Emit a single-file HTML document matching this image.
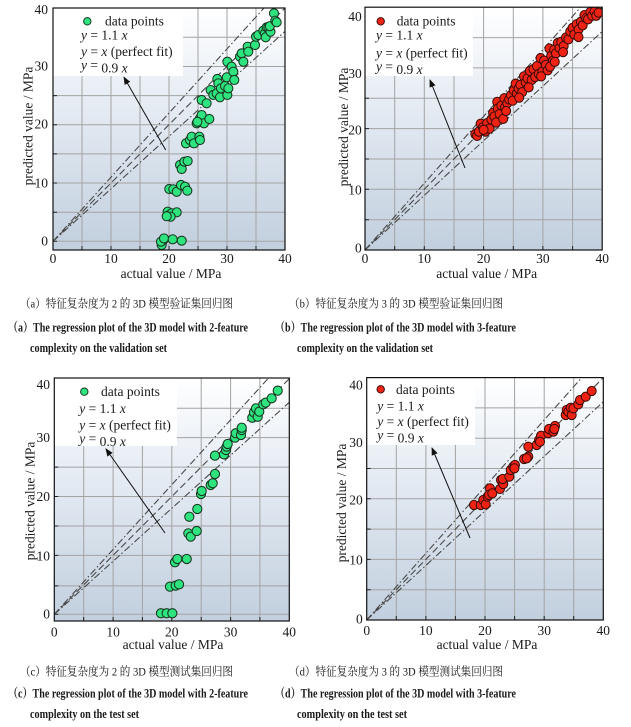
<!DOCTYPE html>
<html><head><meta charset="utf-8"><style>
html,body{margin:0;padding:0;background:#fff;}
svg{display:block;}
text{font-family:"Liberation Serif",serif;fill:#1a1a1a;}
.t{font-size:13.5px;}
.cap text{font-family:"Liberation Serif","Noto Serif CJK SC",serif;}
</style></head><body>
<svg width="631" height="727" viewBox="0 0 631 727" xmlns="http://www.w3.org/2000/svg" style="font-family:'Liberation Serif',serif">
<defs>
<linearGradient id="bg" x1="0" y1="0" x2="0" y2="1">
<stop offset="0" stop-color="#ffffff"/><stop offset="0.35" stop-color="#e8eef5"/><stop offset="1" stop-color="#c2cfde"/>
</linearGradient>
<clipPath id="ca"><rect x="53" y="8" width="232" height="242"/></clipPath>
<clipPath id="cb"><rect x="365" y="7.2" width="237.2" height="242.8"/></clipPath>
<clipPath id="cc"><rect x="54.3" y="378" width="235" height="243"/></clipPath>
<clipPath id="cd"><rect x="366.7" y="377.6" width="236.6" height="242.4"/></clipPath>
<marker id="ah" markerWidth="8" markerHeight="8" refX="7" refY="4" orient="auto" markerUnits="userSpaceOnUse"><path d="M0,0.8 L8,4 L0,7.2 Z" fill="#111"/></marker>
</defs>

<!-- ============ PANEL A ============ -->
<rect x="53" y="8" width="232" height="242" fill="url(#bg)"/>
<g stroke="#a3a3a3" stroke-width="1">
<path d="M82,8V250M111,8V250M140,8V250M169,8V250M198,8V250M227,8V250M256,8V250"/>
<path d="M53,241.3H285M53,212.2H285M53,183H285M53,153.9H285M53,124.7H285M53,95.6H285M53,66.5H285M53,37.3H285"/>
</g>
<g stroke="#222" stroke-width="1">
<path d="M82,250v-4M111,250v-4M140,250v-4M169,250v-4M198,250v-4M227,250v-4M256,250v-4"/>
<path d="M53,241.3h4M53,212.2h4M53,183h4M53,153.9h4M53,124.7h4M53,95.6h4M53,66.5h4M53,37.3h4"/>
</g>
<g clip-path="url(#ca)" fill="none" stroke="#4a4a4a" stroke-width="1.1">
<line x1="53" y1="241.3" x2="263.9" y2="8.1" stroke-dasharray="7,2.5,1.5,2.5"/>
<line x1="53" y1="241.3" x2="285" y2="8.1" stroke-dasharray="7,3.5"/>
<line x1="53" y1="241.3" x2="285" y2="31.4" stroke-dasharray="7,2.5,1.5,2.5"/>
</g>
<g clip-path="url(#ca)"><g transform="translate(53 241.3) scale(5.8 -5.83)" fill="#2fe37f" stroke="#16351f" stroke-width="0.18">
<circle cx="18.74" cy="-0.63" r="0.78"/><circle cx="19.03" cy="0.22" r="0.78"/><circle cx="18.62" cy="-0.06" r="0.78"/><circle cx="19.14" cy="0.5" r="0.78"/><circle cx="20.64" cy="0.34" r="0.78"/><circle cx="22.19" cy="0.1" r="0.78"/>
<circle cx="19.77" cy="5.08" r="0.78"/><circle cx="20.0" cy="4.5" r="0.78"/><circle cx="20.46" cy="4.8" r="0.78"/><circle cx="21.33" cy="4.97" r="0.78"/><circle cx="20.29" cy="4.22" r="0.78"/><circle cx="19.6" cy="4.3" r="0.78"/>
<circle cx="20.05" cy="8.97" r="0.78"/><circle cx="20.74" cy="8.92" r="0.78"/><circle cx="21.33" cy="8.5" r="0.78"/><circle cx="22.07" cy="9.66" r="0.78"/><circle cx="22.76" cy="9.37" r="0.78"/><circle cx="23.16" cy="8.68" r="0.78"/>
<circle cx="21.9" cy="13.1" r="0.78"/><circle cx="22.19" cy="12.4" r="0.78"/><circle cx="22.64" cy="13.66" r="0.78"/><circle cx="23.22" cy="13.77" r="0.78"/>
<circle cx="22.93" cy="16.8" r="0.78"/><circle cx="23.62" cy="17.37" r="0.78"/><circle cx="23.91" cy="17.94" r="0.78"/><circle cx="24.31" cy="16.8" r="0.78"/><circle cx="25.23" cy="17.94" r="0.78"/><circle cx="25.34" cy="17.37" r="0.78"/>
<circle cx="24.77" cy="20.24" r="0.78"/><circle cx="25.34" cy="21.1" r="0.78"/><circle cx="25.63" cy="21.66" r="0.78"/><circle cx="26.03" cy="20.24" r="0.78"/><circle cx="26.95" cy="20.98" r="0.78"/><circle cx="24.9" cy="20.5" r="0.78"/>
<circle cx="25.63" cy="24.24" r="0.78"/><circle cx="26.49" cy="23.67" r="0.78"/><circle cx="27.18" cy="25.95" r="0.78"/><circle cx="27.64" cy="25.1" r="0.78"/><circle cx="28.21" cy="25.38" r="0.78"/><circle cx="28.79" cy="24.7" r="0.78"/>
<circle cx="28.33" cy="27.84" r="0.78"/><circle cx="28.5" cy="27.1" r="0.78"/><circle cx="28.96" cy="26.24" r="0.78"/><circle cx="29.66" cy="26.64" r="0.78"/><circle cx="29.95" cy="28.13" r="0.78"/><circle cx="30.06" cy="25.1" r="0.78"/><circle cx="30.23" cy="26.24" r="0.78"/>
<circle cx="30.06" cy="30.8" r="0.78"/><circle cx="30.8" cy="29.95" r="0.78"/><circle cx="31.09" cy="29.09" r="0.78"/><circle cx="31.26" cy="27.67" r="0.78"/>
<circle cx="32.24" cy="31.66" r="0.78"/><circle cx="32.53" cy="32.24" r="0.78"/><circle cx="32.82" cy="30.8" r="0.78"/><circle cx="33.56" cy="33.38" r="0.78"/><circle cx="33.67" cy="32.52" r="0.78"/>
<circle cx="34.83" cy="33.67" r="0.78"/><circle cx="35.0" cy="35.1" r="0.78"/><circle cx="35.4" cy="35.38" r="0.78"/><circle cx="36.26" cy="36.12" r="0.78"/><circle cx="36.55" cy="35.67" r="0.78"/><circle cx="36.84" cy="36.7" r="0.78"/><circle cx="36.67" cy="35.0" r="0.78"/>
<circle cx="37.13" cy="36.7" r="0.78"/><circle cx="37.5" cy="35.95" r="0.78"/><circle cx="37.38" cy="36.9" r="0.78"/><circle cx="38.1" cy="39.1" r="0.78"/><circle cx="38.33" cy="37.84" r="0.78"/><circle cx="38.56" cy="37.56" r="0.78"/>
</g></g>
<rect x="53.5" y="8.5" width="129.5" height="67.5" fill="#fff"/>
<circle cx="87.3" cy="21.3" r="3.7" fill="#2fe37f" stroke="#16351f" stroke-width="1"/>
<text class="t" x="105" y="25.5">data points</text>
<text class="t" x="81" y="39.5"><tspan font-style="italic">y</tspan> = 1.1 <tspan font-style="italic">x</tspan></text>
<text class="t" x="81" y="56"><tspan font-style="italic">y</tspan> = <tspan font-style="italic">x</tspan> (perfect fit)</text>
<text class="t" x="81" y="69.5"><tspan font-style="italic">y</tspan> =<tspan dy="3"> 0.9 </tspan><tspan font-style="italic">x</tspan></text>
<line x1="165.7" y1="150" x2="124" y2="77.3" stroke="#111" stroke-width="1" marker-end="url(#ah)"/>
<rect x="53" y="8" width="232" height="242" fill="none" stroke="#111" stroke-width="1.2"/>
<g text-anchor="end">
<text class="t" x="48" y="13.8">40</text><text class="t" x="48" y="70.5">30</text><text class="t" x="48" y="128.5">20</text><text class="t" x="48" y="187.5">10</text><text class="t" x="48" y="245.5">0</text>
</g>
<g text-anchor="middle">
<text class="t" x="53" y="263">0</text><text class="t" x="111" y="263">10</text><text class="t" x="169" y="263">20</text><text class="t" x="227" y="263">30</text><text class="t" x="285" y="263">40</text>
<text class="t" x="171" y="278">actual value / MPa</text>
<text class="t" transform="translate(32.5 126) rotate(-90)">predicted value / MPa</text>
</g>

<!-- ============ PANEL B ============ -->
<rect x="365" y="7.2" width="237.2" height="242.8" fill="url(#bg)"/>
<g stroke="#a3a3a3" stroke-width="1">
<path d="M394.7,7V250M424.3,7V250M454,7V250M483.6,7V250M513.3,7V250M542.9,7V250M572.6,7V250"/>
<path d="M365,219.7H602M365,189.3H602M365,159H602M365,128.6H602M365,98.3H602M365,67.9H602M365,37.6H602"/>
</g>
<g stroke="#222" stroke-width="1">
<path d="M394.7,250v-4M424.3,250v-4M454,250v-4M483.6,250v-4M513.3,250v-4M542.9,250v-4M572.6,250v-4"/>
<path d="M365,219.7h4M365,189.3h4M365,159h4M365,128.6h4M365,98.3h4M365,67.9h4M365,37.6h4"/>
</g>
<g clip-path="url(#cb)" fill="none" stroke="#4a4a4a" stroke-width="1.1">
<line x1="365" y1="250" x2="580.6" y2="7.2" stroke-dasharray="7,2.5,1.5,2.5"/>
<line x1="365" y1="250" x2="602.2" y2="7.2" stroke-dasharray="7,3.5"/>
<line x1="365" y1="250" x2="602.2" y2="31.5" stroke-dasharray="7,2.5,1.5,2.5"/>
</g>
<g clip-path="url(#cb)"><g transform="translate(365 250) scale(5.93 -6.07)" fill="#ee2314" stroke="#3a0a06" stroke-width="0.17">
<circle cx="18.6" cy="19.1" r="0.76"/><circle cx="18.9" cy="18.8" r="0.76"/><circle cx="19.2" cy="19.5" r="0.76"/><circle cx="19.5" cy="20.8" r="0.76"/><circle cx="19.9" cy="20.2" r="0.76"/><circle cx="20.3" cy="19.5" r="0.76"/>
<circle cx="20.6" cy="20.9" r="0.76"/><circle cx="21.0" cy="20.0" r="0.76"/><circle cx="21.3" cy="21.5" r="0.76"/><circle cx="21.6" cy="22.6" r="0.76"/><circle cx="21.8" cy="22.0" r="0.76"/><circle cx="22.1" cy="21.0" r="0.76"/>
<circle cx="22.3" cy="24.4" r="0.76"/><circle cx="22.4" cy="23.3" r="0.76"/><circle cx="22.7" cy="22.4" r="0.76"/><circle cx="23.0" cy="23.8" r="0.76"/><circle cx="23.3" cy="21.6" r="0.76"/><circle cx="23.5" cy="25.0" r="0.76"/>
<circle cx="23.6" cy="23.5" r="0.76"/><circle cx="24.0" cy="24.2" r="0.76"/><circle cx="24.3" cy="24.8" r="0.76"/><circle cx="24.6" cy="25.5" r="0.76"/><circle cx="24.9" cy="24.6" r="0.76"/><circle cx="25.1" cy="26.3" r="0.76"/>
<circle cx="25.4" cy="27.4" r="0.76"/><circle cx="25.6" cy="25.8" r="0.76"/><circle cx="25.9" cy="26.6" r="0.76"/><circle cx="26.2" cy="27.2" r="0.76"/><circle cx="26.5" cy="26.0" r="0.76"/><circle cx="26.8" cy="28.6" r="0.76"/>
<circle cx="27.1" cy="27.6" r="0.76"/><circle cx="27.4" cy="28.3" r="0.76"/><circle cx="27.8" cy="29.5" r="0.76"/><circle cx="28.1" cy="28.0" r="0.76"/><circle cx="28.4" cy="29.8" r="0.76"/><circle cx="28.7" cy="28.5" r="0.76"/>
<circle cx="29.0" cy="30.3" r="0.76"/><circle cx="29.3" cy="29.0" r="0.76"/><circle cx="29.6" cy="31.6" r="0.76"/><circle cx="29.9" cy="29.4" r="0.76"/><circle cx="30.2" cy="31.2" r="0.76"/><circle cx="30.5" cy="30.5" r="0.76"/>
<circle cx="30.8" cy="29.6" r="0.76"/><circle cx="31.1" cy="33.2" r="0.76"/><circle cx="31.4" cy="32.0" r="0.76"/><circle cx="31.7" cy="31.2" r="0.76"/><circle cx="31.9" cy="33.0" r="0.76"/><circle cx="32.2" cy="32.4" r="0.76"/>
<circle cx="32.5" cy="34.1" r="0.76"/><circle cx="32.8" cy="33.3" r="0.76"/><circle cx="33.1" cy="34.3" r="0.76"/><circle cx="33.5" cy="33.6" r="0.76"/><circle cx="33.9" cy="35.0" r="0.76"/><circle cx="34.3" cy="34.7" r="0.76"/>
<circle cx="34.6" cy="36.0" r="0.76"/><circle cx="35.0" cy="36.6" r="0.76"/><circle cx="35.3" cy="35.5" r="0.76"/><circle cx="35.7" cy="37.2" r="0.76"/><circle cx="36.0" cy="36.3" r="0.76"/><circle cx="36.4" cy="37.6" r="0.76"/>
<circle cx="36.7" cy="37.0" r="0.76"/><circle cx="37.0" cy="38.7" r="0.76"/><circle cx="37.3" cy="38.2" r="0.76"/><circle cx="37.6" cy="38.0" r="0.76"/><circle cx="38.0" cy="39.2" r="0.76"/><circle cx="38.3" cy="38.6" r="0.76"/>
<circle cx="38.7" cy="39.3" r="0.76"/><circle cx="39.0" cy="38.6" r="0.76"/><circle cx="39.4" cy="39.1" r="0.76"/><circle cx="36.0" cy="35.1" r="0.76"/><circle cx="31.2" cy="30.2" r="0.76"/><circle cx="27.6" cy="26.8" r="0.76"/>
<circle cx="20.0" cy="19.8" r="0.76"/><circle cx="23.8" cy="22.9" r="0.76"/><circle cx="29.7" cy="28.6" r="0.76"/><circle cx="33.4" cy="32.6" r="0.76"/><circle cx="26.0" cy="25.1" r="0.76"/><circle cx="32.0" cy="31.0" r="0.76"/>
</g></g>
<rect x="365.5" y="7.7" width="107.5" height="68.3" fill="#fff"/>
<circle cx="380.7" cy="21.3" r="3.7" fill="#ee2314" stroke="#3a0a06" stroke-width="1"/>
<text class="t" x="396.7" y="25.5">data points</text>
<text class="t" x="376" y="39.5"><tspan font-style="italic">y</tspan> = 1.1 <tspan font-style="italic">x</tspan></text>
<text class="t" x="376" y="57.5"><tspan font-style="italic">y</tspan> = <tspan font-style="italic">x</tspan> (perfect fit)</text>
<text class="t" x="376" y="71"><tspan font-style="italic">y</tspan> =<tspan dy="3"> 0.9 </tspan><tspan font-style="italic">x</tspan></text>
<line x1="465" y1="168" x2="430" y2="80" stroke="#111" stroke-width="1" marker-end="url(#ah)"/>
<rect x="365" y="7.2" width="237.2" height="242.8" fill="none" stroke="#111" stroke-width="1.2"/>
<g text-anchor="end">
<text class="t" x="361.7" y="21.2">40</text><text class="t" x="361.7" y="77.8">30</text><text class="t" x="361.7" y="134.5">20</text><text class="t" x="361.7" y="194.5">10</text><text class="t" x="361.7" y="252.5">0</text>
</g>
<g text-anchor="middle">
<text class="t" x="365" y="263">0</text><text class="t" x="424.3" y="263">10</text><text class="t" x="483.6" y="263">20</text><text class="t" x="542.9" y="263">30</text><text class="t" x="602.2" y="263">40</text>
<text class="t" x="486.7" y="278">actual value / MPa</text>
<text class="t" transform="translate(347.8 127) rotate(-90)">predicted value / MPa</text>
</g>

<!-- ============ PANEL C ============ -->
<rect x="54.3" y="378" width="235" height="243" fill="url(#bg)"/>
<g stroke="#a3a3a3" stroke-width="1">
<path d="M83.7,378V621M113.1,378V621M142.4,378V621M171.8,378V621M201.2,378V621M230.6,378V621M259.9,378V621"/>
<path d="M54.3,614.3H289M54.3,585.9H289M54.3,555.4H289M54.3,526H289M54.3,496.5H289M54.3,467.1H289M54.3,437.6H289M54.3,408.2H289"/>
</g>
<g stroke="#222" stroke-width="1">
<path d="M83.7,621v-4M113.1,621v-4M142.4,621v-4M171.8,621v-4M201.2,621v-4M230.6,621v-4M259.9,621v-4"/>
<path d="M54.3,614.3h4M54.3,585.9h4M54.3,555.4h4M54.3,526h4M54.3,496.5h4M54.3,467.1h4M54.3,437.6h4M54.3,408.2h4"/>
</g>
<g clip-path="url(#cc)" fill="none" stroke="#4a4a4a" stroke-width="1.1">
<line x1="54.3" y1="614.3" x2="267.9" y2="378.7" stroke-dasharray="7,2.5,1.5,2.5"/>
<line x1="54.3" y1="614.3" x2="289.3" y2="378.7" stroke-dasharray="7,3.5"/>
<line x1="54.3" y1="614.3" x2="289.3" y2="402.3" stroke-dasharray="7,2.5,1.5,2.5"/>
</g>
<g clip-path="url(#cc)"><g transform="translate(54.3 614.3) scale(5.875 -5.89)" fill="#2fe37f" stroke="#16351f" stroke-width="0.18">
<circle cx="18.16" cy="0.17" r="0.78"/><circle cx="19.13" cy="0.17" r="0.78"/><circle cx="20.09" cy="0.17" r="0.78"/>
<circle cx="19.69" cy="4.69" r="0.78"/><circle cx="20.66" cy="4.86" r="0.78"/><circle cx="21.23" cy="5.09" r="0.78"/>
<circle cx="20.54" cy="8.83" r="0.78"/><circle cx="20.94" cy="9.39" r="0.78"/><circle cx="22.54" cy="9.39" r="0.78"/>
<circle cx="22.98" cy="16.57" r="0.78"/><circle cx="22.81" cy="13.75" r="0.78"/><circle cx="23.22" cy="13.18" r="0.78"/><circle cx="24.24" cy="14.14" r="0.78"/><circle cx="24.34" cy="17.88" r="0.78"/>
<circle cx="24.97" cy="20.42" r="0.78"/><circle cx="25.09" cy="20.93" r="0.78"/><circle cx="26.62" cy="21.95" r="0.78"/><circle cx="26.96" cy="22.24" r="0.78"/><circle cx="27.35" cy="23.82" r="0.78"/>
<circle cx="27.35" cy="26.93" r="0.78"/><circle cx="28.89" cy="27.16" r="0.78"/><circle cx="29.23" cy="27.9" r="0.78"/><circle cx="29.34" cy="28.47" r="0.78"/><circle cx="29.51" cy="28.92" r="0.78"/>
<circle cx="30.76" cy="29.99" r="0.78"/><circle cx="30.88" cy="30.73" r="0.78"/><circle cx="31.78" cy="30.44" r="0.78"/><circle cx="31.9" cy="31.29" r="0.78"/><circle cx="31.9" cy="31.68" r="0.78"/>
<circle cx="33.7" cy="33.38" r="0.78"/><circle cx="33.99" cy="34.29" r="0.78"/><circle cx="34.33" cy="34.97" r="0.78"/><circle cx="34.62" cy="33.55" r="0.78"/><circle cx="34.89" cy="34.4" r="0.78"/>
<circle cx="35.57" cy="35.65" r="0.78"/><circle cx="35.98" cy="35.93" r="0.78"/><circle cx="37.0" cy="36.67" r="0.78"/><circle cx="38.03" cy="37.97" r="0.78"/>
</g></g>
<rect x="54.8" y="378.5" width="122.2" height="67.5" fill="#fff"/>
<circle cx="84.3" cy="391.7" r="3.7" fill="#2fe37f" stroke="#16351f" stroke-width="1"/>
<text class="t" x="101" y="396">data points</text>
<text class="t" x="79.3" y="412.8"><tspan font-style="italic">y</tspan> = 1.1 <tspan font-style="italic">x</tspan></text>
<text class="t" x="79.3" y="429.5"><tspan font-style="italic">y</tspan> = <tspan font-style="italic">x</tspan> (perfect fit)</text>
<text class="t" x="79.3" y="443"><tspan font-style="italic">y</tspan> =<tspan dy="3"> 0.9 </tspan><tspan font-style="italic">x</tspan></text>
<line x1="165" y1="533" x2="106" y2="449" stroke="#111" stroke-width="1" marker-end="url(#ah)"/>
<rect x="54.3" y="378" width="235" height="243" fill="none" stroke="#111" stroke-width="1.2"/>
<g text-anchor="end">
<text class="t" x="50" y="388.8">40</text><text class="t" x="50" y="442.2">30</text><text class="t" x="50" y="501.2">20</text><text class="t" x="50" y="560.5">10</text><text class="t" x="50" y="618.5">0</text>
</g>
<g text-anchor="middle">
<text class="t" x="54.3" y="636.5">0</text><text class="t" x="113.1" y="636.5">10</text><text class="t" x="171.8" y="636.5">20</text><text class="t" x="230.6" y="636.5">30</text><text class="t" x="289.3" y="636.5">40</text>
<text class="t" x="173" y="649">actual value / MPa</text>
<text class="t" transform="translate(34.3 501) rotate(-90)">predicted value / MPa</text>
</g>

<!-- ============ PANEL D ============ -->
<rect x="366.7" y="377.6" width="236.6" height="242.4" fill="url(#bg)"/>
<g stroke="#a3a3a3" stroke-width="1">
<path d="M396.3,377.6V620M425.9,377.6V620M455.4,377.6V620M485,377.6V620M514.6,377.6V620M544.2,377.6V620M573.7,377.6V620"/>
<path d="M366.7,589.7H603.3M366.7,559.4H603.3M366.7,529.1H603.3M366.7,498.8H603.3M366.7,468.5H603.3M366.7,438.2H603.3M366.7,407.9H603.3"/>
</g>
<g stroke="#222" stroke-width="1">
<path d="M396.3,620v-4M425.9,620v-4M455.4,620v-4M485,620v-4M514.6,620v-4M544.2,620v-4M573.7,620v-4"/>
<path d="M366.7,589.7h4M366.7,559.4h4M366.7,529.1h4M366.7,498.8h4M366.7,468.5h4M366.7,438.2h4M366.7,407.9h4"/>
</g>
<g clip-path="url(#cd)" fill="none" stroke="#4a4a4a" stroke-width="1.1">
<line x1="366.7" y1="620" x2="581.8" y2="377.6" stroke-dasharray="7,2.5,1.5,2.5"/>
<line x1="366.7" y1="620" x2="603.3" y2="377.6" stroke-dasharray="7,3.5"/>
<line x1="366.7" y1="620" x2="603.3" y2="401.8" stroke-dasharray="7,2.5,1.5,2.5"/>
</g>
<g clip-path="url(#cd)"><g transform="translate(366.7 620) scale(5.915 -6.06)" fill="#ee2314" stroke="#3a0a06" stroke-width="0.17">
<circle cx="18.14" cy="18.98" r="0.76"/><circle cx="19.27" cy="18.98" r="0.76"/><circle cx="19.71" cy="19.8" r="0.76"/><circle cx="20.11" cy="19.09" r="0.76"/><circle cx="20.45" cy="20.35" r="0.76"/>
<circle cx="20.84" cy="21.73" r="0.76"/><circle cx="20.67" cy="20.63" r="0.76"/><circle cx="21.23" cy="20.9" r="0.76"/><circle cx="22.53" cy="21.62" r="0.76"/><circle cx="22.7" cy="23.1" r="0.76"/>
<circle cx="23.09" cy="22.44" r="0.76"/><circle cx="22.99" cy="23.27" r="0.76"/><circle cx="24.11" cy="23.65" r="0.76"/><circle cx="24.34" cy="24.75" r="0.76"/><circle cx="24.78" cy="25.3" r="0.76"/>
<circle cx="25.07" cy="25.58" r="0.76"/><circle cx="24.97" cy="25.03" r="0.76"/><circle cx="26.6" cy="26.57" r="0.76"/><circle cx="27.32" cy="26.95" r="0.76"/><circle cx="27.04" cy="26.68" r="0.76"/>
<circle cx="27.32" cy="28.6" r="0.76"/><circle cx="28.74" cy="28.88" r="0.76"/><circle cx="29.13" cy="29.7" r="0.76"/><circle cx="29.47" cy="30.41" r="0.76"/><circle cx="29.3" cy="29.42" r="0.76"/>
<circle cx="30.7" cy="30.81" r="0.76"/><circle cx="30.82" cy="31.52" r="0.76"/><circle cx="31.55" cy="31.08" r="0.76"/><circle cx="31.84" cy="32.01" r="0.76"/><circle cx="31.72" cy="31.52" r="0.76"/>
<circle cx="33.64" cy="33.83" r="0.76"/><circle cx="33.81" cy="34.65" r="0.76"/><circle cx="34.09" cy="34.37" r="0.76"/><circle cx="34.49" cy="35.03" r="0.76"/><circle cx="34.66" cy="33.83" r="0.76"/>
<circle cx="34.93" cy="34.93" r="0.76"/><circle cx="35.77" cy="35.59" r="0.76"/><circle cx="36.06" cy="36.3" r="0.76"/><circle cx="37.03" cy="36.85" r="0.76"/><circle cx="38.04" cy="37.79" r="0.76"/>
</g></g>
<rect x="367.2" y="378.1" width="107.8" height="66.9" fill="#fff"/>
<circle cx="380.7" cy="389.3" r="3.7" fill="#ee2314" stroke="#3a0a06" stroke-width="1"/>
<text class="t" x="396" y="393.8">data points</text>
<text class="t" x="377.3" y="410.5"><tspan font-style="italic">y</tspan> = 1.1 <tspan font-style="italic">x</tspan></text>
<text class="t" x="377.3" y="426"><tspan font-style="italic">y</tspan> = <tspan font-style="italic">x</tspan> (perfect fit)</text>
<text class="t" x="377.3" y="439.5"><tspan font-style="italic">y</tspan> =<tspan dy="3"> 0.9 </tspan><tspan font-style="italic">x</tspan></text>
<line x1="470" y1="538" x2="432" y2="448" stroke="#111" stroke-width="1" marker-end="url(#ah)"/>
<rect x="366.7" y="377.6" width="236.6" height="242.4" fill="none" stroke="#111" stroke-width="1.2"/>
<g text-anchor="end">
<text class="t" x="362.7" y="389.5">40</text><text class="t" x="362.7" y="447">30</text><text class="t" x="362.7" y="504.5">20</text><text class="t" x="362.7" y="564.5">10</text><text class="t" x="362.7" y="623.5">0</text>
</g>
<g text-anchor="middle">
<text class="t" x="366.7" y="635">0</text><text class="t" x="425.9" y="635">10</text><text class="t" x="485" y="635">20</text><text class="t" x="544.2" y="635">30</text><text class="t" x="603.3" y="635">40</text>
<text class="t" x="487" y="649">actual value / MPa</text>
<text class="t" transform="translate(346.2 503) rotate(-90)">predicted value / MPa</text>
</g>

<!-- ============ CAPTIONS ============ -->
<g class="cap">
<text x="20" y="307.5" font-size="12" textLength="213" lengthAdjust="spacingAndGlyphs">（a）特征复杂度为 2 的 3D 模型验证集回归图</text>
<text x="289" y="307.5" font-size="12" textLength="214" lengthAdjust="spacingAndGlyphs">（b）特征复杂度为 3 的 3D 模型验证集回归图</text>
<text x="8" y="331.3" font-size="13" font-weight="bold" textLength="240" lengthAdjust="spacingAndGlyphs">（a）The regression plot of the 3D model with 2-feature</text>
<text x="275" y="331.3" font-size="13" font-weight="bold" textLength="241" lengthAdjust="spacingAndGlyphs">（b）The regression plot of the 3D model with 3-feature</text>
<text x="30" y="352" font-size="13" font-weight="bold" textLength="137" lengthAdjust="spacingAndGlyphs">complexity on the validation set</text>
<text x="297" y="352" font-size="13" font-weight="bold" textLength="136" lengthAdjust="spacingAndGlyphs">complexity on the validation set</text>

<text x="20" y="675.5" font-size="12" textLength="213" lengthAdjust="spacingAndGlyphs">（c）特征复杂度为 2 的 3D 模型测试集回归图</text>
<text x="289" y="675.5" font-size="12" textLength="214" lengthAdjust="spacingAndGlyphs">（d）特征复杂度为 3 的 3D 模型测试集回归图</text>
<text x="8" y="697.5" font-size="13" font-weight="bold" textLength="240" lengthAdjust="spacingAndGlyphs">（c）The regression plot of the 3D model with 2-feature</text>
<text x="275" y="697.5" font-size="13" font-weight="bold" textLength="241" lengthAdjust="spacingAndGlyphs">（d）The regression plot of the 3D model with 3-feature</text>
<text x="30" y="718" font-size="13" font-weight="bold" textLength="109" lengthAdjust="spacingAndGlyphs">complexity on the test set</text>
<text x="297" y="718" font-size="13" font-weight="bold" textLength="110" lengthAdjust="spacingAndGlyphs">complexity on the test set</text>
</g>
</svg>
</body></html>
